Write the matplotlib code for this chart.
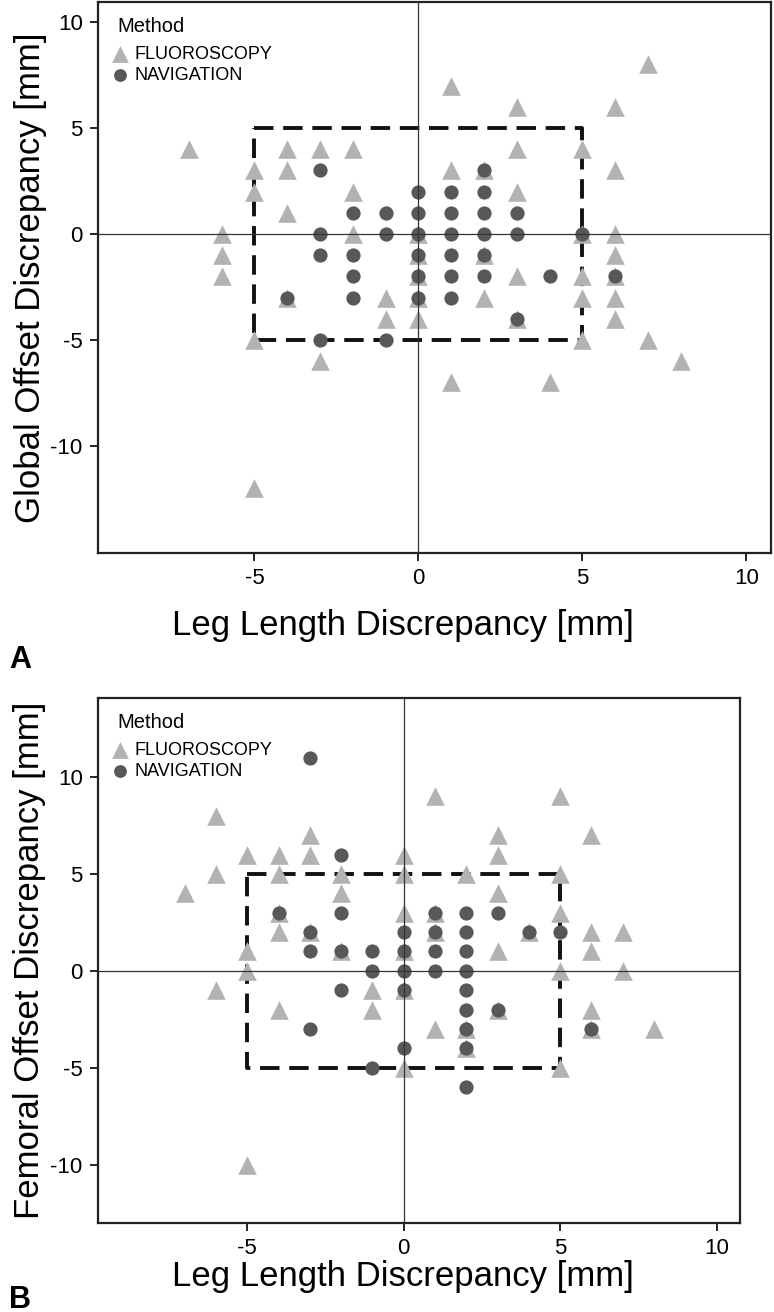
import matplotlib.pyplot as plt

plt.rcParams['font.family'] = ['Liberation Sans', 'DejaVu Sans']
plt.rcParams['axes.unicode_minus'] = False

# Panel A: leg length vs global offset discrepancy
a_fluoro_x = [-7, -4, -3, -2, -5, -4, -5, -2, -4, -6, -2, 0, -6, 0, -6, 0,
              -4, -1, 0, -1, 0, -5, -3, -5,
              1, 7, 3, 6, 3, 5, 1, 2, 6, 3, 5, 6, 2, 6, 3, 5, 6,
              2, 5, 6, 3, 6, 5, 7, 8, 1, 4]
a_fluoro_y = [4, 4, 4, 4, 3, 3, 2, 2, 1, 0, 0, 0, -1, -1, -2, -2,
              -3, -3, -3, -4, -4, -5, -6, -12,
              7, 8, 6, 6, 4, 4, 3, 3, 3, 2, 0, 0, -1, -1, -2, -2, -2,
              -3, -3, -3, -4, -4, -5, -5, -6, -7, -7]
a_nav_x = [-3, 0, -2, -1, 0, -3, -1, 0, -3, -2, 0, -2, 0, -4, -2, 0, -3, -1,
           2, 1, 2, 1, 2, 3, 1, 2, 3, 5, 1, 2, 1, 2, 4, 6, 1, 3]
a_nav_y = [3, 2, 1, 1, 1, 0, 0, 0, -1, -1, -1, -2, -2, -3, -3, -3, -5, -5,
           3, 2, 2, 1, 1, 1, 0, 0, 0, 0, -1, -1, -2, -2, -2, -2, -3, -4]

# Panel B: leg length vs femoral offset discrepancy
b_fluoro_x = [-6, -3, -5, -4, -3, 0, -6, -4, -2, 0, -7, -2, -4, 0, -4, -3,
              -5, -2, 0, -5, -6, -1, 0, -4, -1, 0, -5,
              1, 5, 3, 6, 3, 2, 5, 3, 1, 5, 1, 4, 6, 7, 3, 6, 5, 7,
              3, 6, 1, 2, 6, 8, 2, 5]
b_fluoro_y = [8, 7, 6, 6, 6, 6, 5, 5, 5, 5, 4, 4, 3, 3, 2, 2,
              1, 1, 1, 0, -1, -1, -1, -2, -2, -5, -10,
              9, 9, 7, 7, 6, 5, 5, 4, 3, 3, 2, 2, 2, 2, 1, 1, 0, 0,
              -2, -2, -3, -3, -3, -3, -4, -5]
b_nav_x = [-3, -2, -4, -2, -3, 0, -3, -2, -1, 0, -1, 0, -2, 0, -3, 0, -1,
           1, 2, 3, 1, 2, 4, 5, 1, 2, 1, 2, 2, 2, 3, 2, 6, 2, 2]
b_nav_y = [11, 6, 3, 3, 2, 2, 1, 1, 1, 1, 0, 0, -1, -1, -3, -4, -5,
           3, 3, 3, 2, 2, 2, 2, 1, 1, 0, 0, -1, -2, -2, -3, -3, -4, -6]

fluoro_color = '#b2b2b2'
nav_color = '#585858'

fig = plt.figure(figsize=(7.74, 13.12), dpi=100)
ax_a = fig.add_axes([0.1266, 0.5785, 0.8695, 0.42])
ax_b = fig.add_axes([0.1266, 0.0678, 0.8295, 0.4002])

panels = [
    (ax_a, a_fluoro_x, a_fluoro_y, a_nav_x, a_nav_y, (-15.05, 10.94),
     'Global Offset Discrepancy [mm]', (0.453, -0.131), (-0.101, 0.5)),
    (ax_b, b_fluoro_x, b_fluoro_y, b_nav_x, b_nav_y, (-13.0, 14.07),
     'Femoral Offset Discrepancy [mm]', (0.475, -0.101), (-0.106, 0.5)),
]

for ax, fx, fy, nx, ny, ylim, ylabel, xlab_pos, ylab_pos in panels:
    # tolerance box +-5 mm
    ax.plot([-5, 5, 5, -5, -5], [5, 5, -5, -5, 5], color='#111111', lw=2.8,
            linestyle=(0, (5, 2.5)), zorder=2)
    ax.scatter(fx, fy, marker='^', s=180, color=fluoro_color, linewidths=0,
               zorder=3, label='FLUOROSCOPY')
    ax.scatter(nx, ny, marker='o', s=105, color=nav_color, linewidths=0,
               zorder=4, label='NAVIGATION')
    ax.axhline(0, color='#333333', lw=0.9, zorder=5)
    ax.axvline(0, color='#333333', lw=0.9, zorder=5)

    ax.set_xlim(-9.77, 10.75)
    ax.set_ylim(*ylim)
    ax.set_xticks([-5, 0, 5, 10])
    ax.set_yticks([-10, -5, 0, 5, 10])
    ax.tick_params(direction='out', length=6, width=1.2, labelsize=16, pad=5)
    for sp in ax.spines.values():
        sp.set_linewidth(1.6)
        sp.set_color('#222222')

    ax.set_xlabel('Leg Length Discrepancy [mm]', fontsize=25, va='center')
    ax.set_ylabel(ylabel, fontsize=25, va='center')
    ax.xaxis.set_label_coords(*xlab_pos)
    ax.yaxis.set_label_coords(*ylab_pos)

    # legend: title drawn as text, entries below it
    bbox = ax.get_position()
    ax_h_px = bbox.height * 1312
    ax_w_px = bbox.width * 774
    ax.text(19 / ax_w_px, 1 - 25 / ax_h_px, 'Method', transform=ax.transAxes,
            fontsize=14.5, va='center', ha='left')
    ax.legend(loc='upper left', bbox_to_anchor=(12 / ax_w_px, 1 - 44 / ax_h_px),
              frameon=False, fontsize=13, borderpad=0, borderaxespad=0,
              handletextpad=0.25, labelspacing=0.2, handlelength=1.1,
              markerscale=0.9)

fig.text(0.012, 0.4970, 'A', fontsize=22, fontweight='bold', va='center')
fig.text(0.012, 0.0095, 'B', fontsize=22, fontweight='bold', va='center')

fig.savefig('out.png', dpi=100)
